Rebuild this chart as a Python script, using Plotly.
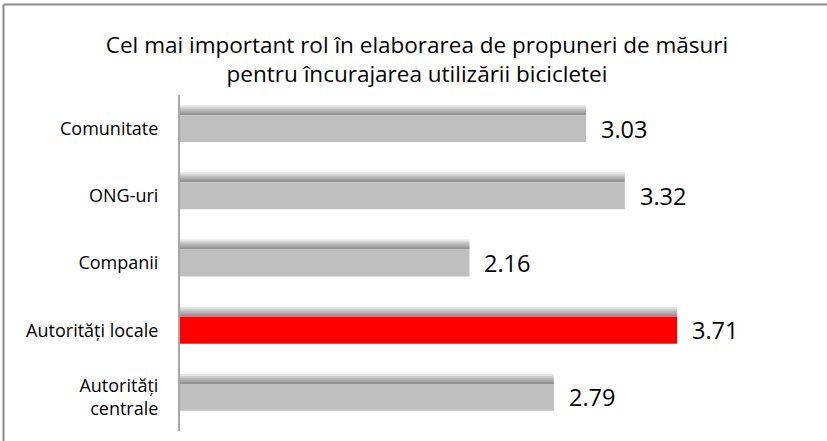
import plotly.graph_objects as go

# ---- data ----
categories = ["Comunitate", "ONG-uri", "Companii", "Autorități locale", "Autorități<br>centrale"]
values = [3.03, 3.32, 2.16, 3.71, 2.79]
bar_colors = ["#bfbfbf", "#bfbfbf", "#bfbfbf", "#ff0000", "#bfbfbf"]
title_text = "Cel mai important rol în elaborarea de propuneri de măsuri<br>pentru încurajarea utilizării bicicletei"

# ---- layout constants ----
W, H = 827, 441
ML, MR, MT, MB = 180, 27, 95, 10
PW, PH = W - ML - MR, H - MT - MB
XMAX = 4.627
FONT = "Open Sans"
BAR_W = 0.4

fig = go.Figure()

# soft shadow above each bar (layered translucent strips)
for s_px in [2, 4, 6, 8, 10]:
    s = s_px / (PH / len(categories))
    fig.add_trace(go.Bar(
        x=values, y=categories, orientation="h",
        offset=-BAR_W / 2 - s, width=s,
        marker=dict(color="rgba(0,0,0,0.1)", line=dict(width=0)),
        hoverinfo="skip", showlegend=False,
    ))

fig.add_trace(go.Bar(
    x=values, y=categories, orientation="h",
    offset=-BAR_W / 2, width=BAR_W,
    marker=dict(color=bar_colors, line=dict(width=0)),
    showlegend=False,
))

for v, c in zip(values, categories):
    fig.add_annotation(
        x=v, y=c, xref="x", yref="y", text=f"{v:.2f}",
        showarrow=False, xanchor="left", yanchor="middle", xshift=13,
        font=dict(family=FONT, size=23.5, color="#000000"),
    )

# frame (only top and left edges visible in the reference)
def px_to_paper_x(px):
    return (px - ML) / PW

def px_to_paper_y(py):
    return (H - MB - py) / PH

frame_color = "#8a8a8a"
fig.add_shape(type="line", xref="paper", yref="paper",
              x0=px_to_paper_x(3.5), x1=px_to_paper_x(W + 5),
              y0=px_to_paper_y(4.5), y1=px_to_paper_y(4.5),
              line=dict(color=frame_color, width=2))
fig.add_shape(type="line", xref="paper", yref="paper",
              x0=px_to_paper_x(3.5), x1=px_to_paper_x(3.5),
              y0=px_to_paper_y(4.5), y1=px_to_paper_y(H + 5),
              line=dict(color=frame_color, width=2))

fig.update_layout(
    width=W, height=H,
    margin=dict(l=ML, r=MR, t=MT, b=MB),
    paper_bgcolor="white", plot_bgcolor="white",
    barmode="overlay",
    title=dict(text=title_text, x=417 / W, xanchor="center", xref="container",
               y=1 - 53 / H, yanchor="middle", yref="container",
               font=dict(family=FONT, size=22.5, color="#000000")),
    xaxis=dict(range=[0, XMAX], visible=False, showgrid=False, zeroline=False),
    yaxis=dict(autorange="reversed", showline=True, linecolor="#a6a6a6", linewidth=2,
               showgrid=False, zeroline=False, ticks="", ticklabelstandoff=16,
               tickfont=dict(family=FONT, size=18, color="#000000")),
    font=dict(family=FONT),
)

fig.write_html("out.html", config={"displayModeBar": False},
               post_script="document.body.style.margin='0';document.body.style.overflow='hidden';")
